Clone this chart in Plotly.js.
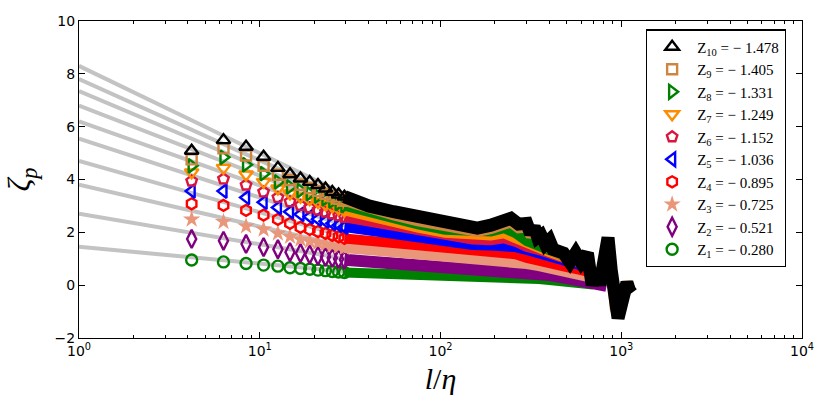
<!DOCTYPE html>
<html><head><meta charset="utf-8">
<script src="https://cdn.plot.ly/plotly-3.0.1.min.js"></script>
<style>html,body{margin:0;padding:0;background:#fff}#chart{width:830px;height:415px}</style>
</head><body><div id="chart"></div>
<script>
// ---------- data ----------
const zIndex = [1,2,3,4,5,6,7,8,9,10];
const zValue = ['− 0.280','− 0.521','− 0.725','− 0.895','− 1.036','− 1.152','− 1.249','− 1.331','− 1.405','− 1.478'];

// well separated points (l/eta)
const lDisc = [4.2, 6.3, 8.4, 10.5, 12.6, 14.7, 16.8, 18.9, 21.0, 23.1, 25.2, 27.3, 29.4];
const z1Disc  = [0.95, 0.88, 0.82, 0.76, 0.72, 0.66, 0.63, 0.60, 0.57, 0.55, 0.52, 0.50, 0.48];
const z2Disc  = [1.75, 1.68, 1.56, 1.44, 1.36, 1.25, 1.21, 1.16, 1.11, 1.07, 1.03, 0.99, 0.96];
const z3Disc  = [2.49, 2.40, 2.23, 2.11, 1.96, 1.84, 1.73, 1.66, 1.60, 1.55, 1.50, 1.45, 1.41];
const z4Disc  = [3.08, 3.02, 2.83, 2.65, 2.49, 2.34, 2.19, 2.11, 2.03, 1.96, 1.89, 1.83, 1.77];
const z5Disc  = [3.56, 3.56, 3.32, 3.14, 2.94, 2.78, 2.68, 2.59, 2.50, 2.42, 2.34, 2.27, 2.20];
const z6Disc  = [3.94, 4.02, 3.79, 3.53, 3.32, 3.16, 3.02, 2.93, 2.85, 2.77, 2.70, 2.63, 2.57];
const z7Disc  = [4.27, 4.44, 4.19, 3.91, 3.66, 3.47, 3.35, 3.25, 3.15, 3.06, 2.98, 2.90, 2.83];
const z8Disc  = [4.52, 4.84, 4.56, 4.22, 3.91, 3.72, 3.58, 3.47, 3.37, 3.27, 3.18, 3.09, 3.01];
const z9Disc  = [4.76, 5.18, 4.91, 4.52, 4.18, 3.98, 3.80, 3.68, 3.57, 3.46, 3.36, 3.27, 3.19];
const z10Disc = [5.09, 5.49, 5.24, 4.86, 4.44, 4.20, 4.04, 3.91, 3.79, 3.66, 3.53, 3.43, 3.35];

// dense part (markers merge into a band)
const lBand  = [29.4, 40, 55, 75, 106, 150, 190, 225, 260, 300, 350, 400, 500, 600, 700];
const lBand2 = [29.4, 40, 55, 75, 106, 150, 190, 225, 260, 300, 350, 400, 500, 600, 700, 780, 830];
const z1Band = [0.48, 0.46, 0.44, 0.40, 0.35, 0.33, 0.31, 0.30, 0.29, 0.25, 0.23, 0.19, 0.13, 0.08, 0.02];
const z2Band = [0.96, 0.90, 0.82, 0.74, 0.66, 0.63, 0.62, 0.59, 0.57, 0.49, 0.44, 0.38, 0.27, 0.17, 0.09, 0.02, -0.03];
const z3Band = [1.41, 1.34, 1.25, 1.16, 1.07, 0.98, 0.97, 0.92, 0.88, 0.80, 0.72, 0.63, 0.49, 0.38, 0.27];
const z4Band = [1.77, 1.68, 1.56, 1.46, 1.34, 1.26, 1.25, 1.20, 1.17, 1.03, 0.95, 0.82, 0.68, 0.57, 0.45];
const z5Band = [2.20, 2.07, 1.90, 1.76, 1.60, 1.52, 1.50, 1.48, 1.44, 1.33, 1.21, 1.10, 0.91, 0.76, 0.61];
const z6Band = [2.57, 2.40, 2.20, 2.02, 1.84, 1.73, 1.70, 1.77, 1.64, 1.44, 1.33, 1.17, 0.98, 0.83, 0.68];
const z7Band = [2.83, 2.60, 2.40, 2.18, 1.98, 1.89, 1.88, 1.96, 1.78, 1.52, 1.40, 1.25, 1.02, 0.87, 0.72];
const z8Band = [3.01, 2.75, 2.52, 2.30, 2.10, 2.05, 2.03, 2.16, 1.97, 1.67, 1.48, 1.29, 1.06, 0.91, 0.76];

const lTop = [29.4, 40, 55, 75, 106, 130, 160, 190, 215, 245, 270, 300, 315, 330, 345, 360, 380, 400, 420, 440,
              480, 520, 560, 600, 650, 690, 730, 760, 800, 845, 880, 920, 960, 1000, 1040, 1075, 1110, 1140];
const z9Band = [3.19, 2.88, 2.64, 2.42, 2.21, 2.13, 2.02, 2.12, 2.28, 2.37, 2.15, 2.18, 1.85, 2.05, 1.70, 1.75, 1.45, 1.58, 1.25, 1.22,
                1.12, 0.82, 1.15, 0.82, 1.13, 0.02, 0.55, 0.02, 1.08, 1.72, 0.55, -0.88, -1.15, -0.70, -0.12, 0.12, -0.12, -0.22];
const z10Band = [3.35, 3.00, 2.78, 2.57, 2.40, 2.31, 2.16, 2.27, 2.42, 2.53, 2.31, 2.34, 1.95, 2.21, 1.80, 1.89, 1.55, 1.70, 1.35, 1.33,
                 1.21, 0.87, 1.22, 0.87, 1.21, 0.00, 0.60, 0.00, 1.14, 1.80, 0.57, -0.95, -1.25, -0.76, -0.19, 0.10, -0.19, -0.30];

// grey power-law fits (value at l=1 and at l=35)
const fitL = [1, 35];
const fitStart = [1.45, 2.70, 3.80, 4.70, 5.55, 6.20, 6.80, 7.35, 7.80, 8.30];
const fitEnd   = [0.47, 0.92, 1.36, 1.70, 2.10, 2.45, 2.70, 2.88, 3.05, 3.20];

const xTickVals = [1, 10, 100, 1000, 10000];
const xTickText = ['10<sup>0</sup>', '10<sup>1</sup>', '10<sup>2</sup>', '10<sup>3</sup>', '10<sup>4</sup>'];
const yTickVals = [-2, 0, 2, 4, 6, 8, 10];

// ---------- styles ----------
const colors  = ['#008000', '#800080', '#e9967a', '#ff0000', '#0000ff', '#dc143c', '#ff8c00', '#008000', '#cd853f', '#000000'];
const symbols = ['circle-open', 'diamond-tall-open', 'star', 'hexagon-open', 'triangle-left-open', 'pentagon-open',
                 'triangle-down-open', 'triangle-right-open', 'square-open', 'triangle-up-open'];
const sizes   = [11, 13, 13, 11, 12, 11, 12, 12, 10, 12];
const bandW   = [10, 12, 10, 10, 10, 10, 10, 10, 10, 13];

const discSeries = [z1Disc, z2Disc, z3Disc, z4Disc, z5Disc, z6Disc, z7Disc, z8Disc, z9Disc, z10Disc];
const bandSeries = [z1Band, z2Band, z3Band, z4Band, z5Band, z6Band, z7Band, z8Band, z9Band, z10Band];
const bandX = [lBand, lBand2, lBand, lBand, lBand, lBand, lBand, lBand, lTop, lTop];

const traces = [];
for (let i = 0; i < 10; i++) {
  traces.push({
    x: fitL, y: [fitStart[i], fitEnd[i]], mode: 'lines', type: 'scatter',
    line: {color: '#c3c3c3', width: 4}, showlegend: false, hoverinfo: 'skip'
  });
}
for (let i = 0; i < 10; i++) {
  traces.push({
    x: bandX[i], y: bandSeries[i], mode: 'lines', type: 'scatter',
    line: {color: colors[i], width: bandW[i]}, showlegend: false, hoverinfo: 'skip'
  });
  const isStar = symbols[i] === 'star';
  traces.push({
    x: lDisc, y: discSeries[i], mode: 'markers', type: 'scatter',
    name: 'Z<sub>' + zIndex[i] + '</sub> = ' + zValue[i],
    marker: {symbol: symbols[i], size: sizes[i], color: colors[i],
             line: {width: isStar ? 0 : 2.4, color: colors[i]}}
  });
}

const minorVals = [];
for (let d = 0; d < 4; d++) for (let m = 2; m <= 9; m++) minorVals.push(m * Math.pow(10, d));

const layout = {
  width: 830, height: 415,
  margin: {l: 79, r: 28, t: 21, b: 77},
  paper_bgcolor: '#fff', plot_bgcolor: '#fff',
  showlegend: true,
  legend: {
    x: 0.784, y: 0.974, xanchor: 'left', yanchor: 'top',
    bgcolor: '#fff', bordercolor: '#000', borderwidth: 1.3,
    traceorder: 'reversed', itemwidth: 40,
    font: {family: 'Liberation Serif, DejaVu Serif, serif', size: 15, color: '#000'}
  },
  xaxis: {
    type: 'log', range: [0, 4], tickmode: 'array', tickvals: xTickVals, ticktext: xTickText,
    ticks: 'inside', ticklen: 6, tickwidth: 1, tickcolor: '#000',
    minor: {tickmode: 'array', tickvals: minorVals, ticks: 'inside', ticklen: 3, tickwidth: 1, tickcolor: '#000'},
    showline: true, linecolor: '#000', linewidth: 1, mirror: 'allticks',
    showgrid: false, zeroline: false, automargin: false,
    tickfont: {family: 'DejaVu Sans, sans-serif', size: 14, color: '#000'},
    title: {text: '<i>l</i>/<i>η</i>', font: {family: 'Liberation Serif, DejaVu Serif, serif', size: 30, color: '#000'}, standoff: 10}
  },
  yaxis: {
    range: [-2, 10], tickmode: 'array', tickvals: yTickVals,
    ticks: 'inside', ticklen: 6, tickwidth: 1, tickcolor: '#000',
    showline: true, linecolor: '#000', linewidth: 1, mirror: 'allticks',
    showgrid: false, zeroline: false, automargin: false,
    tickfont: {family: 'DejaVu Sans, sans-serif', size: 14, color: '#000'},
    title: {text: '<i>ζ<sub>p</sub></i>', font: {family: 'Liberation Serif, DejaVu Serif, serif', size: 32, color: '#000'}, standoff: 14}
  }
};

Plotly.newPlot('chart', traces, layout, {staticPlot: true, displayModeBar: false});
</script>
</body></html>
